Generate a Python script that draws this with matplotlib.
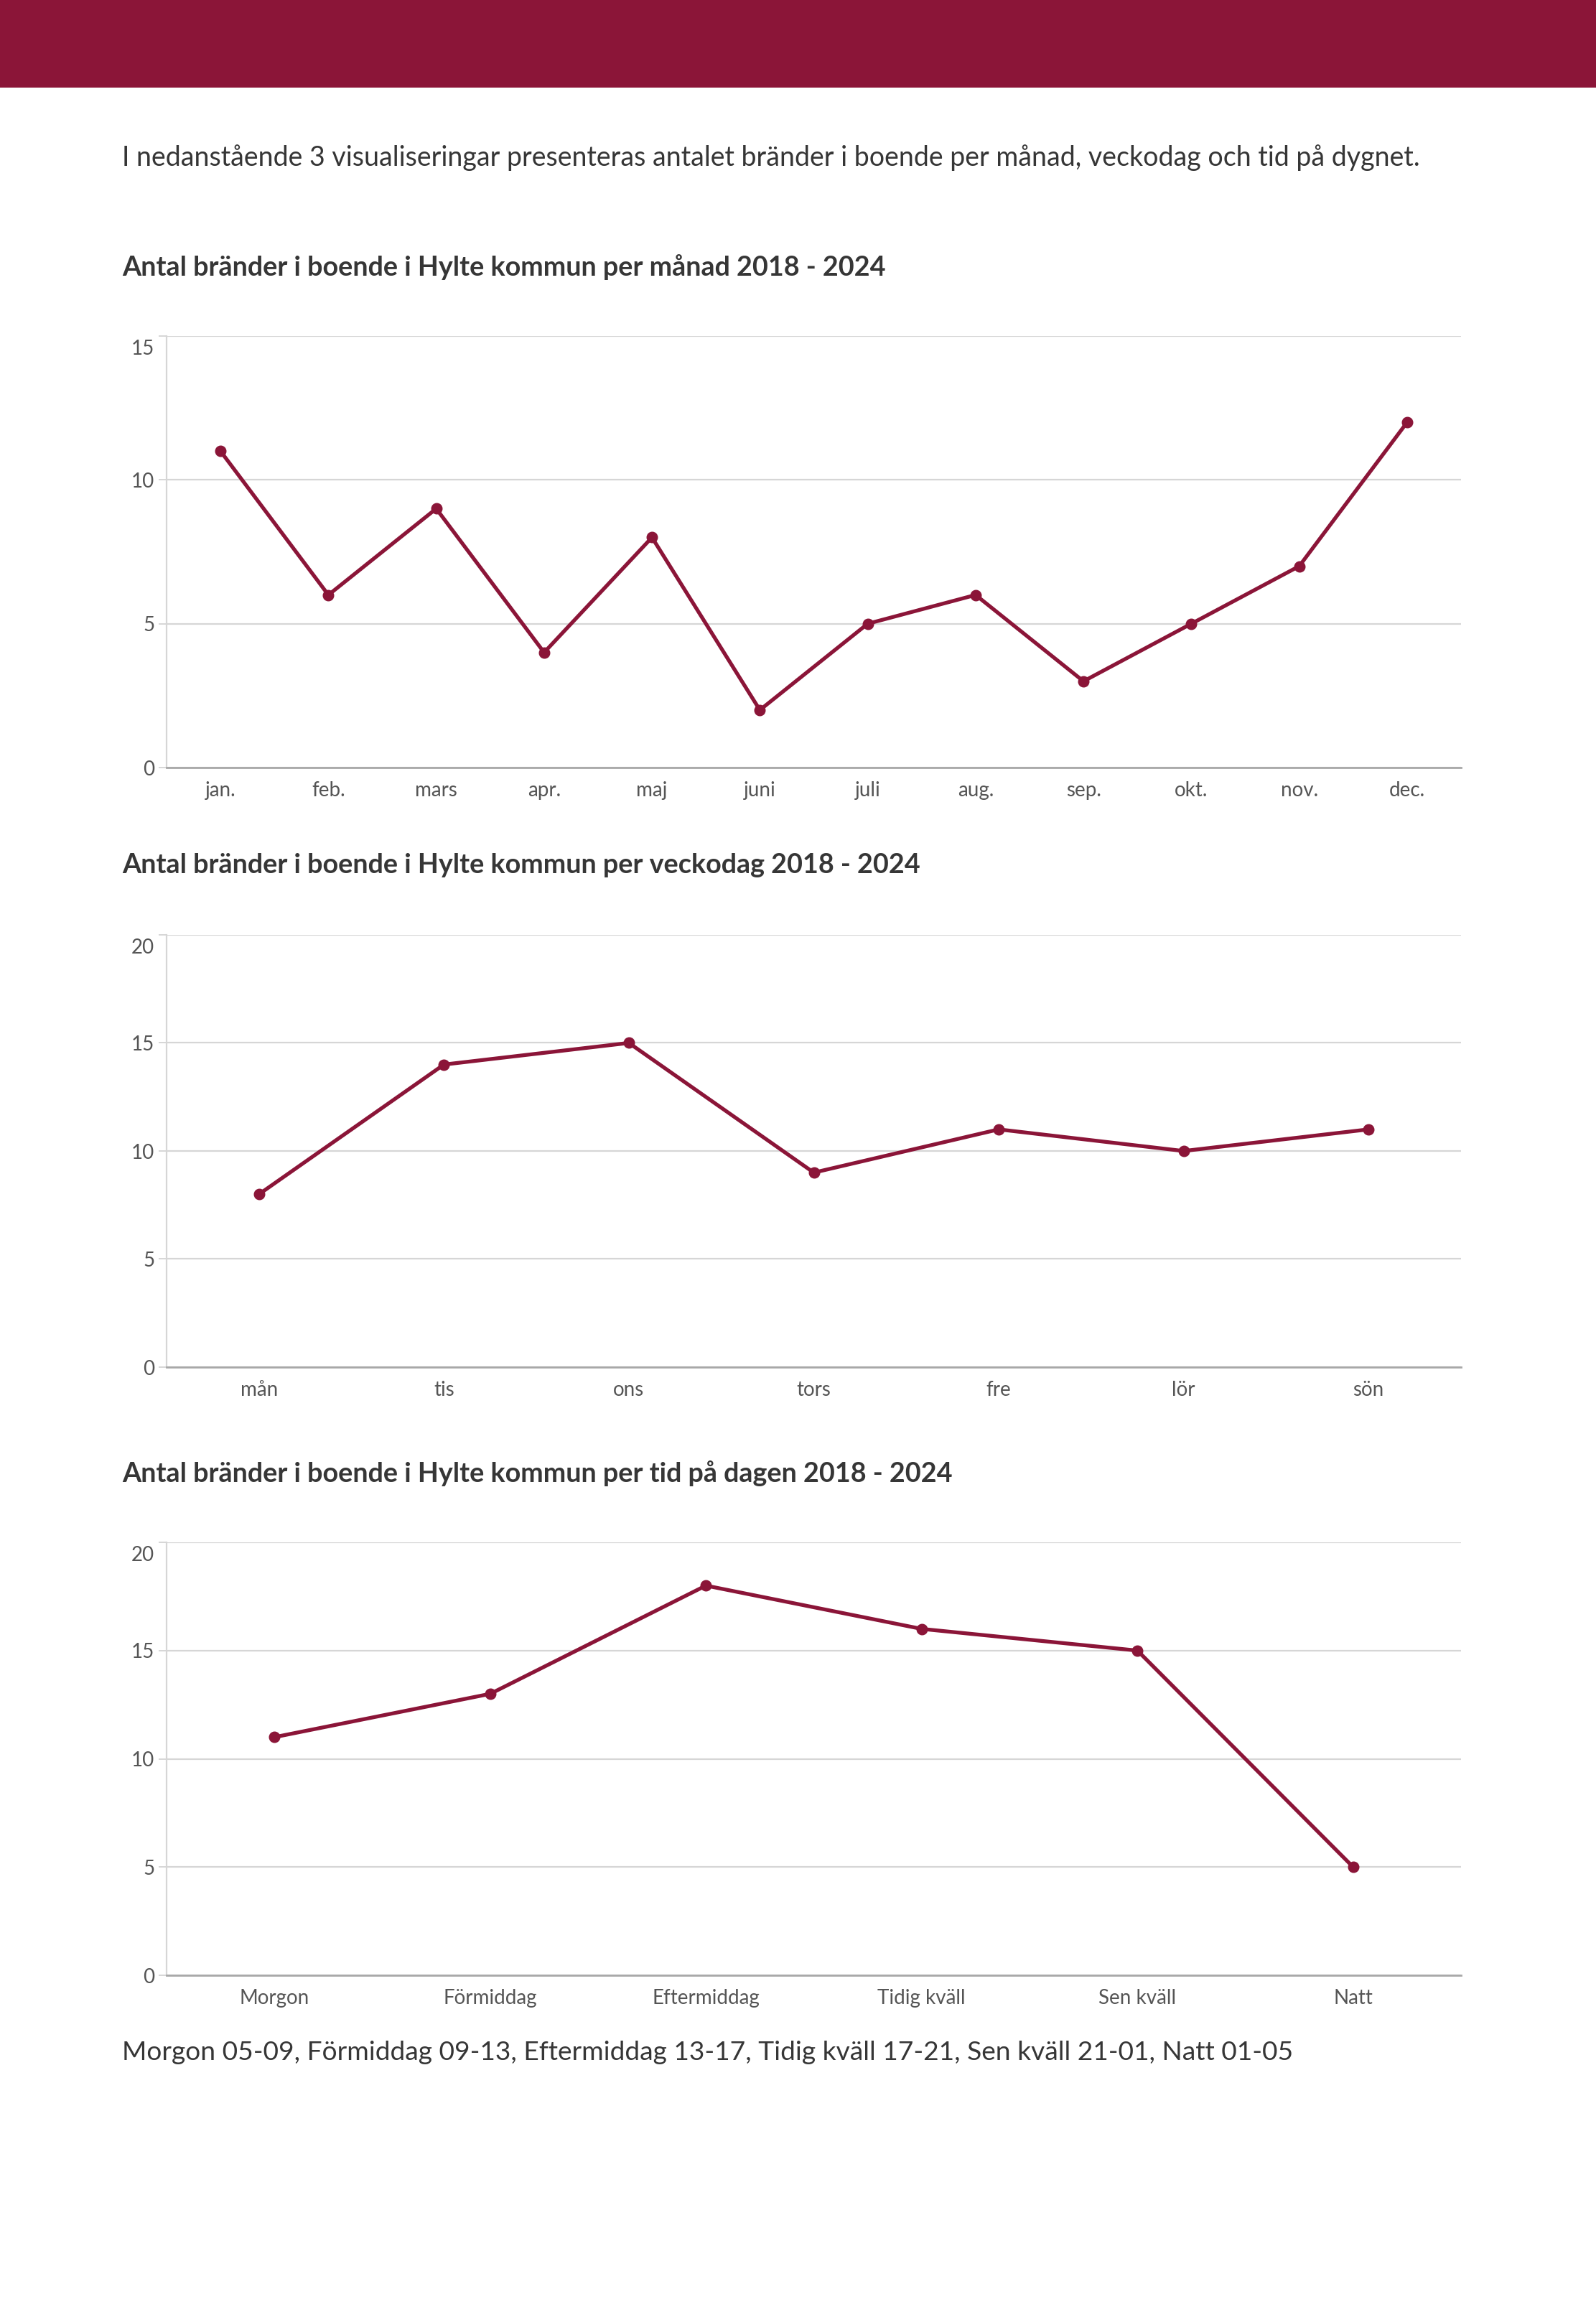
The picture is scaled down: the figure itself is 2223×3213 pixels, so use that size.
import numpy as np
import matplotlib
matplotlib.use("Agg")
import matplotlib.pyplot as plt
from matplotlib.patches import Rectangle
from matplotlib.transforms import ScaledTranslation

# data
months = ["jan.", "feb.", "mars", "apr.", "maj", "juni", "juli", "aug.", "sep.", "okt.", "nov.", "dec."]
month_counts = [11, 6, 9, 4, 8, 2, 5, 6, 3, 5, 7, 12]

weekdays = ["mån", "tis", "ons", "tors", "fre", "lör", "sön"]
weekday_counts = [8, 14, 15, 9, 11, 10, 11]

dayparts = ["Morgon", "Förmiddag", "Eftermiddag", "Tidig kväll", "Sen kväll", "Natt"]
daypart_counts = [11, 13, 18, 16, 15, 5]

intro = "I nedanstående 3 visualiseringar presenteras antalet bränder i boende per månad, veckodag och tid på dygnet."
titles = [
    "Antal bränder i boende i Hylte kommun per månad 2018 - 2024",
    "Antal bränder i boende i Hylte kommun per veckodag 2018 - 2024",
    "Antal bränder i boende i Hylte kommun per tid på dagen 2018 - 2024",
]
footnote = "Morgon 05-09, Förmiddag 09-13, Eftermiddag 13-17, Tidig kväll 17-21, Sen kväll 21-01, Natt 01-05"

# styling
W, H = 2223, 3213
wine = "#8b1538"
text_col = "#363636"
tick_col = "#555555"
grid_col = "#d6d6d6"
plt.rcParams['font.family'] = ['Lato', 'DejaVu Sans']

fig = plt.figure(figsize=(W / 100, H / 100), dpi=100)

# banner on top
fig.patches.append(Rectangle((0, 1 - 122 / H), 1, 122 / H, transform=fig.transFigure,
                             facecolor=wine, edgecolor="none", zorder=0))

fig.text(170 / W, 1 - 220 / H, intro, fontsize=27, color=text_col, va="center", ha="left")


def px_axes(x0, y0, x1, y1):
    # pixel box (top-left origin) -> figure axes
    return fig.add_axes([x0 / W, 1 - y1 / H, (x1 - x0) / W, (y1 - y0) / H])


def line_chart(box, cats, vals, ymax, title, title_y):
    fig.text(170 / W, 1 - title_y / H, title, fontsize=27.2, fontweight="bold",
             color=text_col, va="center", ha="left")
    ax = px_axes(*box)
    x = np.arange(len(cats))
    ax.plot(x, vals, color=wine, lw=3.8, marker="o", ms=10.5, zorder=3, clip_on=False)
    ax.set_xlim(-0.5, len(cats) - 0.5)
    ax.set_ylim(0, ymax)
    ax.set_yticks(np.arange(0, ymax + 1, 5))
    ax.set_xticks(x)
    ax.set_xticklabels(cats)
    ax.grid(axis="y", color=grid_col, lw=1.6)
    ax.set_axisbelow(True)
    for s in ["top", "right"]:
        ax.spines[s].set_visible(False)
    ax.spines["left"].set_color(grid_col)
    ax.spines["left"].set_linewidth(1.6)
    ax.spines["bottom"].set_color("#a8a8a8")
    ax.spines["bottom"].set_linewidth(2)
    ax.tick_params(axis="y", length=8, width=1.4, color=grid_col, labelsize=20,
                   labelcolor=tick_col, pad=4)
    ax.tick_params(axis="x", length=0, labelsize=20, labelcolor=tick_col, pad=14)
    # top label sits a bit below its gridline in the original
    top = ax.get_yticklabels()[-1]
    top.set_transform(top.get_transform() + ScaledTranslation(0, -0.15, fig.dpi_scale_trans))
    return ax


line_chart((232, 468, 2035, 1069), months, month_counts, 15, titles[0], 372)
line_chart((232, 1302, 2035, 1904), weekdays, weekday_counts, 20, titles[1], 1205)
line_chart((232, 2148, 2035, 2751), dayparts, daypart_counts, 20, titles[2], 2052)

fig.text(170 / W, 1 - 2858 / H, footnote, fontsize=26.7, color=text_col, va="center", ha="left")

fig.savefig("out.png", dpi=100, facecolor="white")
